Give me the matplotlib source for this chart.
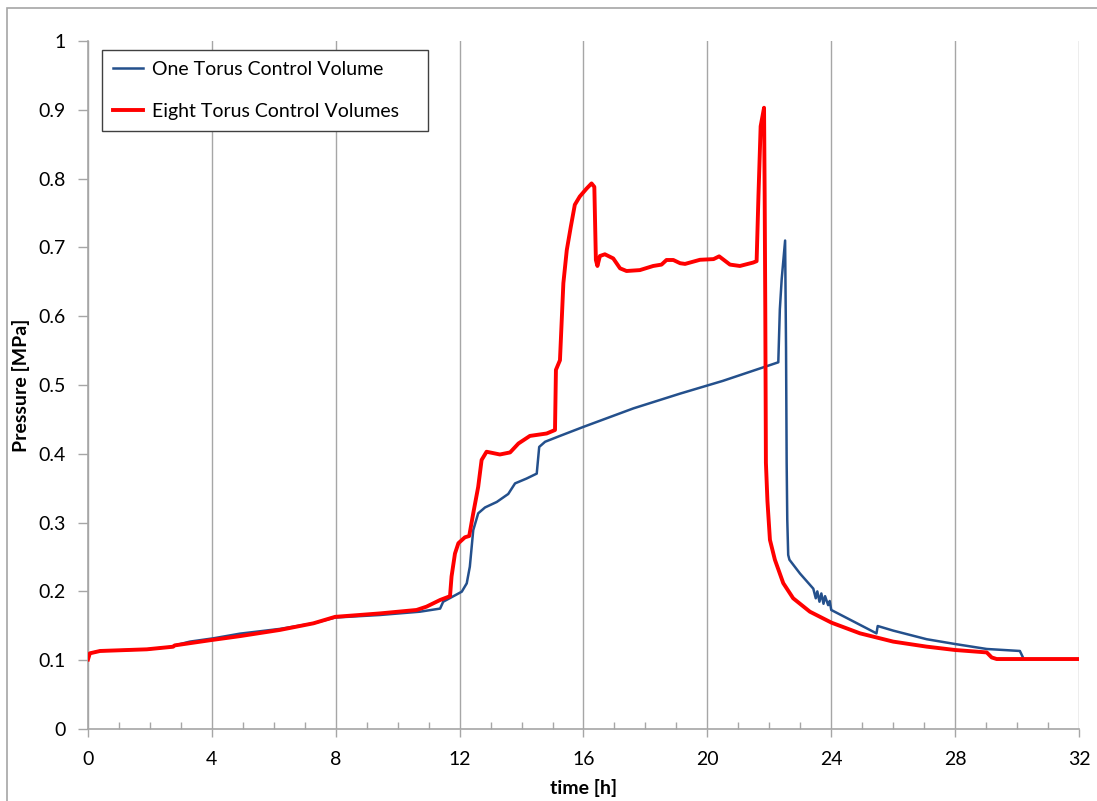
import matplotlib
matplotlib.use('Agg')
import matplotlib.pyplot as plt
from matplotlib.patches import Rectangle
from matplotlib.ticker import MultipleLocator

plt.rcParams['font.family'] = ['Lato', 'DejaVu Sans']

# one torus control volume: time [h] / pressure [MPa]
t_one = [0.0, 0.06, 0.39, 1.9, 2.75, 2.8, 3.29, 4.05, 4.91, 6.2, 7.28, 7.98,
         9.43, 10.72, 11.37, 11.47, 11.8, 12.07, 12.23, 12.33, 12.44, 12.6,
         12.82, 13.2, 13.57, 13.79, 14.16, 14.49, 14.57, 14.76, 15.24, 15.99,
         17.61, 19.12, 20.5, 22.29, 22.34, 22.4, 22.51, 22.54, 22.56, 22.58,
         22.61, 22.65, 22.99, 23.42, 23.5, 23.55, 23.62, 23.68, 23.75, 23.8,
         23.9, 23.95, 24.0, 25.46, 25.5, 26.0, 27.08, 28.0, 29.02, 30.09, 30.18]
p_one = [0.101, 0.11, 0.1134, 0.1158, 0.1196, 0.1215, 0.127, 0.1318, 0.1386,
         0.1455, 0.1536, 0.162, 0.1657, 0.1705, 0.175, 0.185, 0.193, 0.1996,
         0.2117, 0.236, 0.289, 0.3135, 0.322, 0.330, 0.3416, 0.357, 0.364,
         0.3712, 0.41, 0.4175, 0.426, 0.439, 0.466, 0.4875, 0.506, 0.533,
         0.61, 0.654, 0.71, 0.554, 0.387, 0.304, 0.253, 0.246, 0.226, 0.204,
         0.19, 0.2, 0.185, 0.197, 0.182, 0.193, 0.18, 0.186, 0.173, 0.139,
         0.1497, 0.143, 0.1305, 0.1235, 0.1163, 0.1134, 0.105]

# eight torus control volumes
t_eight = [0.0, 0.06, 0.39, 1.9, 2.75, 2.8, 3.94, 4.91, 6.2, 7.28, 7.98, 9.43,
           10.61, 10.93, 11.37, 11.69, 11.74, 11.85, 11.96, 12.17, 12.31,
           12.44, 12.6, 12.71, 12.87, 13.3, 13.63, 13.9, 14.27, 14.81, 15.08,
           15.11, 15.24, 15.35, 15.46, 15.59, 15.72, 15.88, 16.1, 16.26, 16.35,
           16.4, 16.45, 16.53, 16.69, 16.96, 17.18, 17.39, 17.82, 18.25, 18.52,
           18.68, 18.9, 19.12, 19.28, 19.76, 20.2, 20.38, 20.73, 21.05, 21.48,
           21.59, 21.65, 21.72, 21.83, 21.85, 21.87, 21.89, 21.94, 22.02,
           22.18, 22.45, 22.77, 23.31, 24.01, 24.93, 26.0, 27.08, 28.0, 29.02,
           29.18, 29.34, 32.0]
p_eight = [0.101, 0.11, 0.1134, 0.1158, 0.1196, 0.1215, 0.129, 0.135, 0.144,
           0.1536, 0.163, 0.168, 0.173, 0.1778, 0.1875, 0.193, 0.2218, 0.255,
           0.27, 0.2786, 0.2805, 0.3135, 0.352, 0.391, 0.403, 0.399, 0.402,
           0.415, 0.426, 0.4295, 0.4346, 0.522, 0.536, 0.648, 0.696, 0.73,
           0.762, 0.774, 0.7855, 0.793, 0.788, 0.6817, 0.673, 0.6875, 0.69,
           0.684, 0.6696, 0.6657, 0.667, 0.673, 0.675, 0.6817, 0.6817, 0.677,
           0.676, 0.682, 0.683, 0.687, 0.675, 0.673, 0.678, 0.68, 0.776, 0.876,
           0.903, 0.776, 0.61, 0.387, 0.331, 0.275, 0.246, 0.212, 0.19, 0.1705,
           0.1545, 0.139, 0.127, 0.1197, 0.1148, 0.1113, 0.104, 0.1017, 0.1017]

x_ticks = [0, 4, 8, 12, 16, 20, 24, 28, 32]
y_ticks = [0, 0.1, 0.2, 0.3, 0.4, 0.5, 0.6, 0.7, 0.8, 0.9, 1]
y_labels = ['0', '0.1', '0.2', '0.3', '0.4', '0.5', '0.6', '0.7', '0.8', '0.9', '1']

fig = plt.figure(figsize=(10.97, 8.01), dpi=100)
ax = fig.add_axes([0.0802, 0.0899, 0.9034, 0.8589])

ax.plot(t_one, p_one, color='#24508C', lw=1.8, label='One Torus Control Volume', zorder=3)
ax.plot(t_eight, p_eight, color='#FF0000', lw=2.8, label='Eight Torus Control Volumes', zorder=4)

ax.set_xlim(0, 32)
ax.set_ylim(0, 1)
ax.set_xticks(x_ticks)
ax.set_yticks(y_ticks)
ax.set_yticklabels(y_labels)
ax.xaxis.set_minor_locator(MultipleLocator(1))

ax.grid(axis='x', which='major', color='#A6A6A6', lw=1.0)
ax.tick_params(axis='x', which='major', direction='out', length=6, width=1,
               color='#A6A6A6', labelsize=14, pad=10)
ax.tick_params(axis='x', which='minor', direction='in', length=5, width=1,
               color='#A6A6A6')
ax.tick_params(axis='y', which='major', direction='out', length=7, width=1,
               color='#A6A6A6', labelsize=14, pad=9)

for side in ['top', 'right']:
    ax.spines[side].set_visible(False)
for side in ['left', 'bottom']:
    ax.spines[side].set_color('#A6A6A6')
    ax.spines[side].set_linewidth(1.2)

ax.set_xlabel('time [h]', fontsize=14, fontweight='bold')
ax.set_ylabel('Pressure [MPa]', fontsize=14, fontweight='bold')
ax.xaxis.set_label_coords(0.5, -0.072)
ax.yaxis.set_label_coords(-0.058, 0.5)

leg = ax.legend(loc='upper left', bbox_to_anchor=(0.0141, 0.5, 0.329, 0.487),
                mode='expand', borderaxespad=0, fontsize=14, fancybox=False,
                framealpha=1, edgecolor='#404040', handlelength=1.55,
                handletextpad=0.45, labelspacing=1.25, borderpad=0.58)
leg.get_frame().set_linewidth(1.0)

# thin frame round the whole chart
fig.patches.append(Rectangle((7 / 1097, -0.05), 1.1, 1 - 8 / 801 + 0.05,
                             transform=fig.transFigure, fill=False,
                             edgecolor='#A6A6A6', lw=1.2))

fig.savefig('out.png', dpi=100, facecolor='white')
